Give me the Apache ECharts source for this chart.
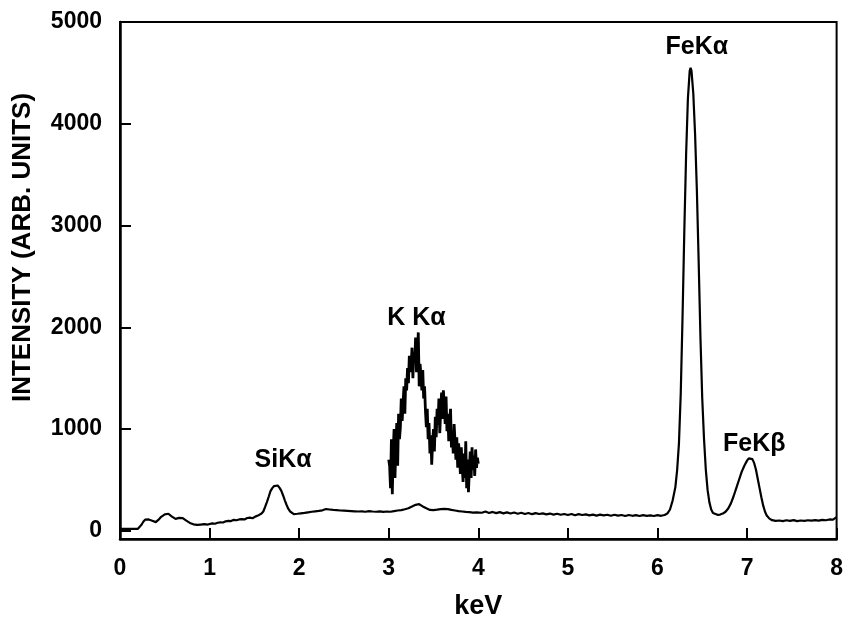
<!DOCTYPE html>
<html>
<head>
<meta charset="utf-8">
<script src="https://cdn.jsdelivr.net/npm/echarts@6/dist/echarts.min.js"></script>
<style>
  html, body { margin: 0; padding: 0; background: #fff; }
  #chartEds { width: 846px; height: 625px; }
</style>
</head>
<body>
<div id="chartEds"></div>
<script>
  // EDS spectrum, [keV, counts]
  var spectrum = [
    [0.00, 20], [0.10, 20], [0.20, 20], [0.22, 30], [0.24, 60], [0.26, 90], [0.28, 110], [0.30, 118], [0.32, 112], [0.34, 106],
    [0.36, 100], [0.38, 92], [0.40, 86], [0.42, 98], [0.44, 118], [0.46, 138], [0.48, 150], [0.50, 162], [0.52, 172], [0.54, 168],
    [0.56, 150], [0.58, 140], [0.60, 126], [0.62, 118], [0.64, 122], [0.66, 128], [0.68, 124], [0.70, 126], [0.72, 114], [0.74, 100],
    [0.76, 88], [0.78, 78], [0.80, 70], [0.82, 64], [0.84, 66], [0.86, 58], [0.88, 55], [0.90, 62], [0.92, 58], [0.94, 66],
    [0.96, 70], [0.98, 62], [1.00, 68], [1.03, 74], [1.06, 70], [1.09, 80], [1.12, 84], [1.15, 82], [1.18, 94], [1.21, 98],
    [1.24, 96], [1.27, 108], [1.30, 104], [1.33, 112], [1.36, 116], [1.39, 112], [1.42, 126], [1.45, 130], [1.48, 124], [1.51, 140],
    [1.54, 150], [1.56, 146], [1.58, 170], [1.60, 190], [1.62, 235], [1.64, 283], [1.66, 335], [1.68, 390], [1.70, 420], [1.72, 440],
    [1.74, 450], [1.76, 446], [1.78, 425], [1.80, 395], [1.82, 350], [1.84, 300], [1.86, 254], [1.88, 215], [1.90, 190], [1.92, 175],
    [1.94, 165], [1.96, 160], [1.98, 168], [2.00, 158], [2.02, 172], [2.04, 165], [2.06, 176], [2.08, 170], [2.10, 182], [2.12, 175],
    [2.14, 188], [2.16, 180], [2.18, 192], [2.20, 186], [2.22, 196], [2.24, 190], [2.26, 202], [2.28, 194], [2.30, 214], [2.32, 204],
    [2.34, 210], [2.36, 198], [2.38, 206], [2.40, 196], [2.42, 204], [2.44, 192], [2.46, 200], [2.48, 188], [2.50, 198], [2.52, 186],
    [2.54, 196], [2.56, 184], [2.58, 194], [2.60, 180], [2.62, 192], [2.64, 178], [2.66, 190], [2.68, 182], [2.70, 192], [2.72, 176],
    [2.74, 188], [2.76, 180], [2.78, 194], [2.80, 178], [2.82, 190], [2.84, 176], [2.86, 188], [2.88, 180], [2.90, 192], [2.92, 176],
    [2.94, 186], [2.96, 178], [2.98, 190], [3.00, 172], [3.02, 188], [3.04, 180], [3.06, 194], [3.08, 186], [3.10, 200], [3.12, 190],
    [3.14, 204], [3.16, 196], [3.18, 212], [3.20, 206], [3.22, 222], [3.24, 226], [3.26, 240], [3.28, 246], [3.30, 256], [3.32, 250],
    [3.34, 262], [3.36, 248], [3.38, 240], [3.40, 234], [3.42, 222], [3.44, 216], [3.46, 206], [3.48, 212], [3.50, 204], [3.52, 212],
    [3.54, 208], [3.56, 218], [3.58, 214], [3.60, 224], [3.62, 216], [3.64, 226], [3.66, 214], [3.68, 218], [3.70, 206], [3.72, 212],
    [3.74, 200], [3.76, 206], [3.78, 194], [3.80, 200], [3.82, 190], [3.84, 198], [3.86, 186], [3.88, 194], [3.90, 184], [3.92, 192],
    [3.94, 180], [3.96, 190], [3.98, 182], [4.00, 186], [4.04, 178], [4.08, 190], [4.12, 176], [4.16, 186], [4.20, 174], [4.24, 184],
    [4.28, 172], [4.32, 182], [4.36, 170], [4.40, 180], [4.44, 168], [4.48, 178], [4.52, 166], [4.56, 176], [4.60, 164], [4.64, 174],
    [4.68, 166], [4.72, 172], [4.76, 162], [4.80, 170], [4.84, 160], [4.88, 168], [4.92, 158], [4.96, 166], [5.00, 156], [5.04, 166],
    [5.08, 154], [5.12, 164], [5.16, 156], [5.20, 162], [5.24, 152], [5.28, 160], [5.32, 150], [5.36, 160], [5.40, 152], [5.44, 158],
    [5.48, 148], [5.52, 158], [5.56, 150], [5.60, 156], [5.64, 146], [5.68, 156], [5.72, 148], [5.76, 154], [5.80, 146], [5.84, 154],
    [5.88, 148], [5.92, 152], [5.96, 146], [6.00, 154], [6.04, 148], [6.08, 156], [6.11, 170], [6.14, 210], [6.17, 300], [6.20, 430],
    [6.22, 600], [6.24, 860], [6.26, 1350], [6.28, 2100], [6.30, 2950], [6.32, 3700], [6.34, 4250], [6.36, 4520], [6.37, 4550], [6.38, 4520],
    [6.40, 4300], [6.42, 3900], [6.44, 3350], [6.46, 2650], [6.48, 1900], [6.50, 1300], [6.52, 900], [6.54, 600], [6.56, 400], [6.58, 280],
    [6.60, 210], [6.62, 175], [6.64, 162], [6.67, 158], [6.70, 160], [6.73, 170], [6.76, 188], [6.79, 220], [6.82, 270], [6.85, 340],
    [6.88, 420], [6.91, 500], [6.94, 580], [6.97, 640], [7.00, 690], [7.02, 712], [7.04, 720], [7.06, 705], [7.08, 665], [7.10, 600],
    [7.12, 510], [7.14, 420], [7.16, 330], [7.18, 250], [7.20, 190], [7.22, 150], [7.25, 120], [7.28, 105], [7.32, 98], [7.36, 102],
    [7.40, 96], [7.44, 104], [7.48, 98], [7.52, 106], [7.56, 96], [7.60, 102], [7.64, 98], [7.68, 104], [7.72, 100], [7.76, 106],
    [7.80, 100], [7.84, 108], [7.88, 104], [7.92, 112], [7.96, 110], [7.98, 126], [8.00, 135]
  ];

  // K Ka window, expanded trace (channel spacing 0.01 keV from 3.00)
  var kaStart = 3.0;
  var kaStep = 0.01;
  var kaCounts = [700, 640, 420, 900, 360, 780, 1000, 520, 880, 1060,
    640, 1150, 900, 1020, 1300, 1080, 1250, 1420, 1150, 1500,
    1380, 1600, 1450, 1720, 1560, 1620, 1800, 1500, 1760, 1650,
    1900, 1560, 1700, 1950, 1420, 1640, 1520, 1380, 1580, 1300,
    1420, 1180, 1020, 1200, 900, 1060, 760, 940, 650, 880,
    1000, 780, 1120, 920, 1200, 1040, 1300, 960, 1180, 1360,
    1100, 1380, 1240, 1050, 1320, 980, 1150, 880, 1060, 1200,
    820, 980, 760, 1050, 880, 700, 920, 620, 860, 740,
    560, 820, 640, 480, 760, 520, 880, 420, 700, 380,
    600, 780, 520, 820, 600, 740, 540, 800, 620, 720, 660];

  var peakNames = ['SiKα', 'K Kα', 'FeKα', 'FeKβ'];
  var peakX = [1.82, 3.31, 6.44, 7.08];
  var peakY = [693, 2090, 4756, 850];

  var yTicks = [0, 1000, 2000, 3000, 4000, 5000];

  var chartEds = echarts.init(document.getElementById('chartEds'));

  var kaData = kaCounts.map(function (c, i) { return [+(kaStart + i * kaStep).toFixed(2), c]; });
  var peakData = peakNames.map(function (n, i) { return { name: n, value: [peakX[i], peakY[i]] }; });

  var font = "'Liberation Sans', Arial, Helvetica, sans-serif";

  chartEds.setOption({
    animation: false,
    backgroundColor: '#fff',
    grid: {
      left: 120, top: 22, width: 718, height: 520,
      show: true, borderColor: '#000', borderWidth: 2
    },
    xAxis: {
      type: 'value', min: 0, max: 8, interval: 1,
      name: 'keV', nameLocation: 'middle', nameGap: 54,
      nameTextStyle: { fontFamily: font, fontWeight: 'bold', fontSize: 27, color: '#000' },
      axisLine: { onZero: false, lineStyle: { color: '#000', width: 2.5 } },
      axisTick: { inside: true, length: 11, lineStyle: { color: '#000', width: 2 } },
      axisLabel: { margin: 18, fontFamily: font, fontWeight: 'bold', fontSize: 23, color: '#000' },
      splitLine: { show: false }
    },
    yAxis: {
      type: 'value', min: -80, max: 5000,
      name: 'INTENSITY (ARB. UNITS)', nameLocation: 'middle', nameGap: 84,
      nameTextStyle: { fontFamily: font, fontWeight: 'bold', fontSize: 26, color: '#000', padding: [0, 0, 0, 66] },
      axisLine: { lineStyle: { color: '#000', width: 2.5 } },
      axisTick: { inside: true, length: 11, customValues: yTicks, lineStyle: { color: '#000', width: 2 } },
      axisLabel: {
        margin: 18, customValues: yTicks,
        formatter: function (v) { return String(v); },
        fontFamily: font, fontWeight: 'bold', fontSize: 23, color: '#000'
      },
      splitLine: { show: false }
    },
    series: [
      {
        name: 'spectrum', type: 'line', data: spectrum,
        showSymbol: false, lineStyle: { color: '#000', width: 2.2 }
      },
      {
        name: 'K Ka expanded', type: 'line', data: kaData,
        showSymbol: false, lineStyle: { color: '#000', width: 2.8 }
      },
      {
        name: 'peaks', type: 'scatter', data: peakData, symbolSize: 0, silent: true,
        itemStyle: { opacity: 1 },
        label: {
          show: true, position: 'inside', formatter: '{b}',
          fontFamily: font, fontWeight: 'bold', fontSize: 25, color: '#000', opacity: 1
        }
      }
    ]
  });
</script>
</body>
</html>
